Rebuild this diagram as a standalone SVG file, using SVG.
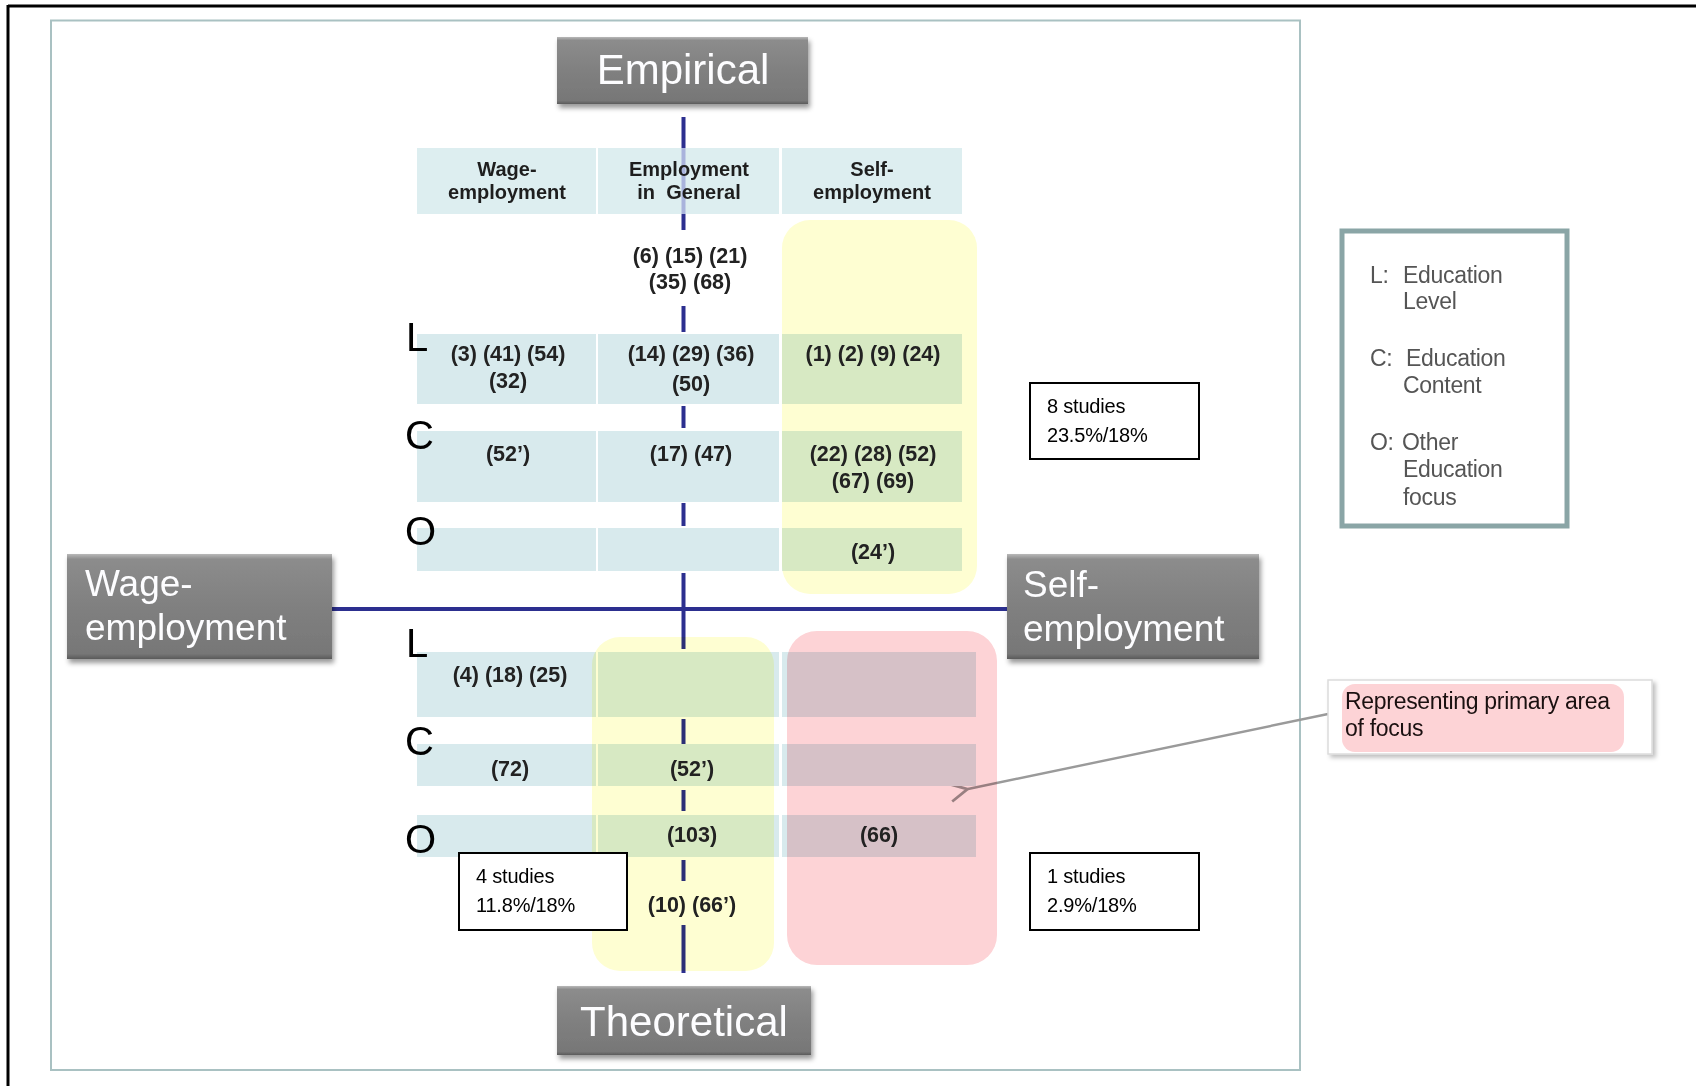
<svg xmlns="http://www.w3.org/2000/svg" width="1696" height="1086" viewBox="0 0 1696 1086">
  <defs>
    <linearGradient id="bevel" x1="0" y1="0" x2="0" y2="1">
      <stop offset="0" stop-color="#b8b8b8"/>
      <stop offset="0.05" stop-color="#8c8c8c"/>
      <stop offset="0.5" stop-color="#808080"/>
      <stop offset="0.95" stop-color="#777777"/>
      <stop offset="1" stop-color="#5a5a5a"/>
    </linearGradient>
    <filter id="shadow" x="-10%" y="-10%" width="125%" height="135%">
      <feDropShadow dx="2" dy="4" stdDeviation="2.5" flood-color="#000" flood-opacity="0.4"/>
    </filter>
    <filter id="softshadow" x="-5%" y="-10%" width="115%" height="130%">
      <feDropShadow dx="3" dy="3" stdDeviation="2" flood-color="#000" flood-opacity="0.25"/>
    </filter>
    <marker id="open-arrow" viewBox="0 0 24 24" refX="2" refY="12" markerWidth="24" markerHeight="24" markerUnits="userSpaceOnUse" orient="auto">
      <path d="M20,3 L2.5,12 L20,21" fill="none" stroke="#9a9a9a" stroke-width="2.8"/>
    </marker>
    <style>
      .axisbox { fill: url(#bevel); filter: url(#shadow); }
      .axislabel { font-family: "Liberation Sans", Arial, sans-serif; fill: #fdfdff; }
      .big { font-size: 42px; text-anchor: middle; }
      .mid { font-size: 37px; }
      .hdr { fill: #ddeef0; }
      .cell { fill: #d8eaed; }
      .hdrtxt { font-family: "Liberation Sans", Arial, sans-serif; font-weight: bold; font-size: 20px; fill: #1e1e1e; text-anchor: middle; }
      .num { font-family: "Liberation Sans", Arial, sans-serif; font-weight: bold; font-size: 21.5px; fill: #222; text-anchor: middle; }
      .dim { font-family: "Liberation Sans", Arial, sans-serif; font-size: 40px; fill: #000; }
      .yellow { fill: #fefed2; mix-blend-mode: multiply; }
      .pink { fill: #fdd3d6; mix-blend-mode: multiply; }
      .studybox { fill: #fff; stroke: #000; stroke-width: 2; }
      .studytxt { font-family: "Liberation Sans", Arial, sans-serif; font-size: 20px; fill: #000; letter-spacing: -0.2px; }
      .legendtxt { font-family: "Liberation Sans", Arial, sans-serif; font-size: 23px; fill: #555; letter-spacing: -0.3px; }
      .axis { stroke: #2c2f8f; stroke-width: 4; fill: none; }
    </style>
  </defs>

  <!-- page edges -->
  <path d="M8,6 H1696 M8,5 V1086" stroke="#000" stroke-width="3" fill="none"/>
  <!-- figure frame -->
  <rect x="51" y="20.5" width="1249" height="1049.5" fill="#fff" stroke="#a9c1c2" stroke-width="2"/>

  <!-- axes -->
  <g id="connectors">
    <path class="axis" d="M683.5,117 V148 M683.5,214 V230 M683.5,306 V332 M683.5,406 V428 M683.5,503 V526 M683.5,573 V649 M683.5,719 V746 M683.5,790 V811 M683.5,860 V881 M683.5,925 V973"/>
    <path class="axis" d="M332,609 H1007"/>
    <path d="M1328,714 L968,789" stroke="#9a9a9a" stroke-width="2.4" fill="none" marker-end="url(#open-arrow)"/>
  </g>

  <!-- matrix: column headings -->
  <g id="matrix-header">
    <rect class="hdr" x="417" y="148" width="179" height="66"/>
    <rect class="hdr" x="598" y="148" width="181" height="66"/>
    <rect class="hdr" x="782" y="148" width="180" height="66"/>
    <!-- axis seen faintly through the heading band -->
    <path d="M683.5,148 V214" stroke="#a9b3dc" stroke-width="4"/>
    <text class="hdrtxt" x="507" y="176">Wage-</text>
    <text class="hdrtxt" x="507" y="199">employment</text>
    <text class="hdrtxt" x="689" y="176">Employment</text>
    <text class="hdrtxt" x="689" y="199" xml:space="preserve">in  General</text>
    <text class="hdrtxt" x="872" y="176">Self-</text>
    <text class="hdrtxt" x="872" y="199">employment</text>
  </g>

  <!-- matrix: empirical rows -->
  <g id="matrix-empirical">
    <rect class="cell" x="417" y="334" width="179" height="70"/>
    <rect class="cell" x="598" y="334" width="181" height="70"/>
    <rect class="cell" x="782" y="334" width="180" height="70"/>
    <rect class="cell" x="417" y="431" width="179" height="71"/>
    <rect class="cell" x="598" y="431" width="181" height="71"/>
    <rect class="cell" x="782" y="431" width="180" height="71"/>
    <rect class="cell" x="417" y="528" width="179" height="43"/>
    <rect class="cell" x="598" y="528" width="181" height="43"/>
    <rect class="cell" x="782" y="528" width="180" height="43"/>
  </g>

  <!-- matrix: theoretical rows -->
  <g id="matrix-theoretical">
    <rect class="cell" x="417" y="652" width="179" height="65"/>
    <rect class="cell" x="598" y="652" width="181" height="65"/>
    <rect class="cell" x="782" y="652" width="194" height="65"/>
    <rect class="cell" x="417" y="744" width="179" height="42"/>
    <rect class="cell" x="598" y="744" width="181" height="42"/>
    <rect class="cell" x="782" y="744" width="194" height="42"/>
    <rect class="cell" x="417" y="815" width="179" height="42"/>
    <rect class="cell" x="598" y="815" width="181" height="42"/>
    <rect class="cell" x="782" y="815" width="194" height="42"/>
  </g>

  <!-- highlighted areas -->
  <g id="highlight-self-empirical">
    <rect class="yellow" x="782" y="220" width="195" height="374" rx="28"/>
  </g>
  <g id="highlight-general-theoretical">
    <rect class="yellow" x="592" y="637" width="182" height="334" rx="28"/>
  </g>
  <g id="highlight-self-theoretical">
    <rect class="pink" x="787" y="631" width="210" height="334" rx="30"/>
  </g>

  <!-- row markers -->
  <g id="row-markers">
    <text class="dim" x="406" y="351">L</text>
    <text class="dim" x="405" y="449">C</text>
    <text class="dim" x="405" y="545">O</text>
    <text class="dim" x="406" y="657">L</text>
    <text class="dim" x="405" y="755">C</text>
    <text class="dim" x="405" y="853">O</text>
  </g>

  <!-- study references -->
  <g id="refs">
    <text class="num" x="690" y="263">(6) (15) (21)</text>
    <text class="num" x="690" y="289">(35) (68)</text>
    <text class="num" x="508" y="361">(3) (41) (54)</text>
    <text class="num" x="508" y="388">(32)</text>
    <text class="num" x="691" y="361">(14) (29) (36)</text>
    <text class="num" x="691" y="391">(50)</text>
    <text class="num" x="873" y="361">(1) (2) (9) (24)</text>
    <text class="num" x="508" y="461">(52’)</text>
    <text class="num" x="691" y="461">(17) (47)</text>
    <text class="num" x="873" y="461">(22) (28) (52)</text>
    <text class="num" x="873" y="488">(67) (69)</text>
    <text class="num" x="873" y="559">(24’)</text>
    <text class="num" x="510" y="682">(4) (18) (25)</text>
    <text class="num" x="510" y="776">(72)</text>
    <text class="num" x="692" y="776">(52’)</text>
    <text class="num" x="692" y="842">(103)</text>
    <text class="num" x="879" y="842">(66)</text>
    <text class="num" x="692" y="912">(10) (66’)</text>
  </g>

  <!-- axis end labels -->
  <g id="box-empirical">
    <rect class="axisbox" x="557" y="37" width="251" height="67"/>
    <text class="axislabel big" x="683" y="84">Empirical</text>
  </g>
  <g id="box-theoretical">
    <rect class="axisbox" x="557" y="986" width="254" height="69"/>
    <text class="axislabel big" x="684" y="1036">Theoretical</text>
  </g>
  <g id="box-wage">
    <rect class="axisbox" x="67" y="554" width="265" height="105"/>
    <text class="axislabel mid" x="85" y="596">Wage-</text>
    <text class="axislabel mid" x="85" y="640">employment</text>
  </g>
  <g id="box-self">
    <rect class="axisbox" x="1007" y="554" width="252" height="105"/>
    <text class="axislabel mid" x="1023" y="597">Self-</text>
    <text class="axislabel mid" x="1023" y="641">employment</text>
  </g>

  <!-- study counts -->
  <g id="count-self-empirical">
    <rect class="studybox" x="1030" y="383" width="169" height="76"/>
    <text class="studytxt" x="1047" y="413">8 studies</text>
    <text class="studytxt" x="1047" y="442">23.5%/18%</text>
  </g>
  <g id="count-general-theoretical">
    <rect class="studybox" x="459" y="853" width="168" height="77"/>
    <text class="studytxt" x="476" y="883">4 studies</text>
    <text class="studytxt" x="476" y="912">11.8%/18%</text>
  </g>
  <g id="count-self-theoretical">
    <rect class="studybox" x="1030" y="853" width="169" height="77"/>
    <text class="studytxt" x="1047" y="883">1 studies</text>
    <text class="studytxt" x="1047" y="912">2.9%/18%</text>
  </g>

  <!-- key -->
  <g id="legend">
    <rect x="1342" y="231" width="225" height="295" fill="#fff" stroke="#8aa5a6" stroke-width="5"/>
    <text class="legendtxt" x="1370" y="283">L:<tspan x="1403">Education</tspan></text>
    <text class="legendtxt" x="1403" y="309">Level</text>
    <text class="legendtxt" x="1370" y="366">C:<tspan x="1406">Education</tspan></text>
    <text class="legendtxt" x="1403" y="393">Content</text>
    <text class="legendtxt" x="1370" y="450">O:<tspan x="1402">Other</tspan></text>
    <text class="legendtxt" x="1403" y="477">Education</text>
    <text class="legendtxt" x="1403" y="505">focus</text>
  </g>

  <!-- callout -->
  <g id="callout">
    <rect x="1328" y="680" width="324" height="74" fill="#fff" stroke="#dcdcdc" stroke-width="1.5" filter="url(#softshadow)"/>
    <rect x="1342" y="684" width="282" height="68" rx="13" fill="#fdd3d6"/>
    <text x="1345" y="709" font-family="Liberation Sans, Arial, sans-serif" font-size="23" letter-spacing="-0.3" fill="#1a1010">Representing primary area</text>
    <text x="1345" y="736" font-family="Liberation Sans, Arial, sans-serif" font-size="23" letter-spacing="-0.3" fill="#1a1010">of focus</text>
  </g>
</svg>
